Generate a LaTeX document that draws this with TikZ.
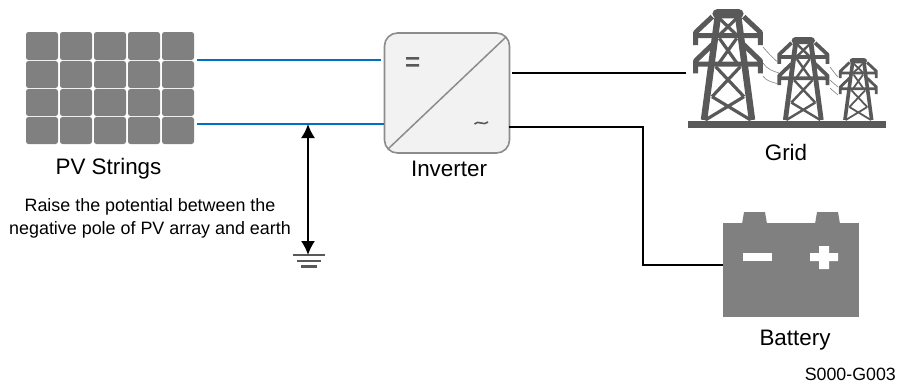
\documentclass[tikz,border=0pt]{standalone}
\usepackage{fontspec}
\setmainfont{Liberation Sans}
\usetikzlibrary{arrows.meta}
\definecolor{cellgray}{HTML}{808080}
\definecolor{towergray}{HTML}{595959}
\definecolor{wireblue}{HTML}{0070C0}
\definecolor{invfill}{HTML}{F2F2F2}
\definecolor{invline}{HTML}{8C8C8C}
\tikzset{
  cell/.style={fill=cellgray,rounded corners=2.5pt,draw=none},
  bluewire/.style={draw=wireblue,line width=2.4pt},
  blackwire/.style={draw=black,line width=2.4pt},
  lbl/.style={font=\fontsize{22.4}{24}\selectfont,text=black,inner sep=0pt},
  note/.style={font=\fontsize{17.9}{23}\selectfont,text=black,inner sep=0pt,align=center},
  gndline/.style={draw=towergray,line width=2.2pt},
  batt/.style={fill=cellgray,draw=none},
}
\newcommand{\towerdraw}[3]{%
 \begin{scope}[shift={(#1,120)},x=#3*1pt/3,y=-#3*1pt/3,draw=towergray,line join=round]
  \fill[towergray,rounded corners=#3*5pt] (-47,-333) -- (47,-333) -- (47,-305) -- (-47,-305) -- cycle;
  \draw[line width=#3*6.5pt] (-30,-315) -- (-72,0) (30,-315) -- (72,0);
  \draw[line width=#3*5pt] (-47,-310) -- (-97,-263) -- (-97,-225) (47,-310) -- (97,-263) -- (97,-225)
    (-97,-253) -- (97,-253)
    (-47,-226) -- (-97,-178) -- (-97,-140) (47,-226) -- (97,-178) -- (97,-140)
    (-97,-168) -- (97,-168);
  \draw[line width=#3*3.2pt] (-26,-305) -- (26,-255) (26,-305) -- (-26,-255)
    (-26,-245) -- (26,-172) (26,-245) -- (-26,-172)
    (-37,-160) -- (48,-70) (37,-160) -- (-48,-70)
    (-48,-70) -- (68,0) (48,-70) -- (-68,0);
 \end{scope}}
\begin{document}
\begin{tikzpicture}[x=1pt,y=-1pt]
\useasboundingbox (0,0) rectangle (899,384);
% PV panel
\foreach \c/\xa in {1/26,2/60,3/94,4/128,5/162}{
  \foreach \r/\ya/\yb in {1/32/60,2/61/88,3/89/116,4/117/144}{
    \path[cell] (\xa,\ya) rectangle (\xa+32,\yb);
  }
}
\node[lbl] (pv) at (108.5,169) {PV Strings};
\coordinate (pvtop) at (197,60);
\coordinate (pvbot) at (197,124);
% Inverter
\node[draw=invline,fill=invfill,line width=1.6pt,rounded corners=13pt,minimum width=125pt,minimum height=120pt,inner sep=0pt] (inv) at (447,93) {};
\draw[invline,line width=1.5pt] (388,149) -- (506,37);
\fill[towergray] (406,57) rectangle (419,59.5) (406,64) rectangle (419,66.5);
\draw[towergray,line width=1.6pt] (474.5,124) .. controls (478,119.5) and (484,126.5) .. (488,122);
\node[lbl] (invlabel) at (449,169) {Inverter};
\coordinate (invtop) at (381,60);
\coordinate (invbot) at (384,124);
\coordinate (invgrid) at (512,73);
\coordinate (invbat) at (509,127);
% DC wires
\draw[bluewire] (pvtop) -- (invtop);
\draw[bluewire] (pvbot) -- (invbot);
% Grid
\towerdraw{728}{120}{1}
\towerdraw{803.3}{120}{0.747}
\towerdraw{858.3}{120}{0.557}
\fill[towergray] (688,120.5) rectangle (886,128);
\begin{scope}[draw=gray,line width=0.6pt]
 \draw (763,47) .. controls (768,53) and (773,58) .. (777,61.5);
 \draw (763,63) .. controls (768,70) and (773,71) .. (779,73);
 \draw (763,76) .. controls (766,81) and (772,82) .. (777,83.5);
 \draw (830,67) .. controls (833,71) and (836,75) .. (838,77);
 \draw (830,80) .. controls (833,83) and (836,85) .. (838,87);
 \draw (830,88) .. controls (833,91) and (836,93) .. (838,95);
\end{scope}
\node[lbl] (grid) at (786,152) {Grid};
\coordinate (gridin) at (686,73);
\draw[blackwire] (invgrid) -- (gridin);
% Battery
\path[batt] (723,223) rectangle (859,317);
\path[batt] (742,224) -- (744,212) -- (765,212) -- (767,224) -- cycle;
\path[batt] (815,224) -- (817,212) -- (838,212) -- (840,224) -- cycle;
\fill[white] (743,253) rectangle (772,261);
\fill[white] (810,253) rectangle (838,261) (819,246) rectangle (829,269);
\node[lbl] (battery) at (795,340.5) {Battery};
\coordinate (batin) at (723,265);
\draw[blackwire] (invbat) -- (643,127) -- (643,265) -- (batin);
% Earth
\coordinate (tap) at (308,124);
\coordinate (gnd) at (308,255);
\draw[draw=black,line width=1.8pt,{Latex[length=14pt,width=14pt]}-{Latex[length=14pt,width=14pt]}] (tap) -- (gnd);
\draw[gndline] (293,255) -- (325,255) (297,261) -- (321,261) (301,266.5) -- (317,266.5);
\node[note] (notetxt) at (150,218) {Raise the potential between the\\negative pole of PV array and earth};
\node[inner sep=0pt,anchor=east,font=\fontsize{17.8}{20}\selectfont] (code) at (896,374) {S000-G003};
\end{tikzpicture}
\end{document}
